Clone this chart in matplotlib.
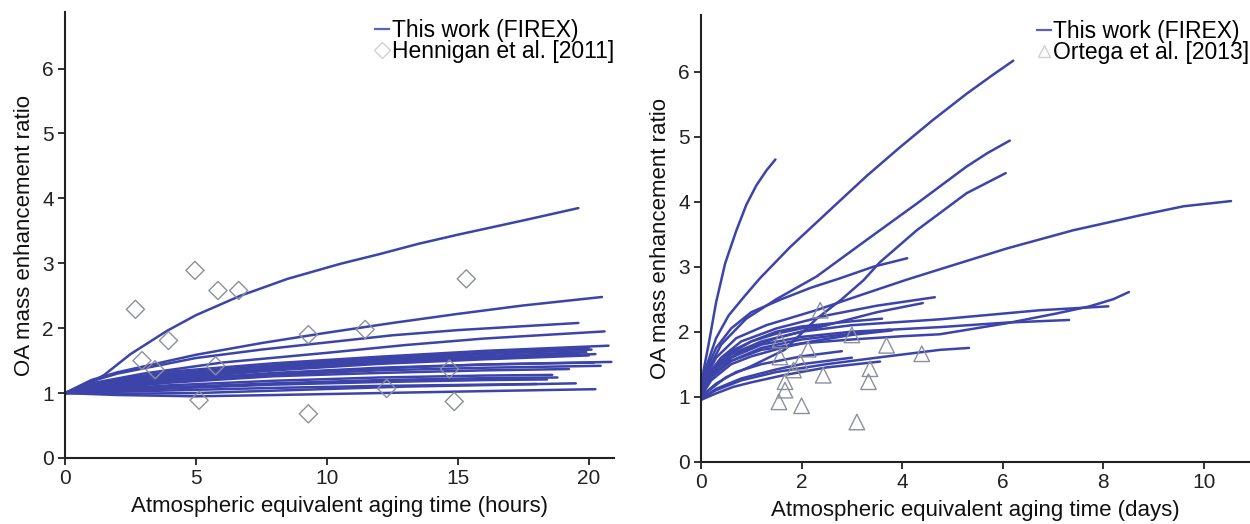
import matplotlib
matplotlib.use("Agg")
import matplotlib.pyplot as plt
from matplotlib.lines import Line2D

plt.rcParams['font.family'] = ['Liberation Sans', 'DejaVu Sans']

# ---------------- Left panel data: FIREX curves (hours) ----------------
h01_t = [0, 0.8, 1.5, 2.5, 3.9, 5, 6.7, 8.5, 10.5, 12, 13.5, 15, 17.5, 19.6]
h01_r = [1, 1.12, 1.28, 1.6, 1.96, 2.2, 2.5, 2.76, 2.99, 3.14, 3.3, 3.44, 3.66, 3.85]
h02_t = [0, 1, 2, 5, 7.5, 10, 12.5, 15, 17.5, 20.5]
h02_r = [1, 1.2, 1.32, 1.59, 1.77, 1.93, 2.08, 2.22, 2.35, 2.48]
h03_t = [0, 1, 2, 5, 7.5, 10, 12.5, 15, 17.5, 19.6]
h03_r = [1, 1.18, 1.3, 1.54, 1.67, 1.78, 1.89, 1.97, 2.03, 2.08]
h04_t = [0, 1, 3, 6, 10, 13, 16, 20.6]
h04_r = [1, 1.15, 1.3, 1.47, 1.62, 1.74, 1.84, 1.95]
h05_t = [0, 1, 4, 8, 12, 16, 20.75]
h05_r = [1, 1.14, 1.33, 1.46, 1.56, 1.65, 1.73]
h06_t = [0, 1, 4, 8, 12, 16, 20.0]
h06_r = [1, 1.13, 1.3, 1.43, 1.54, 1.62, 1.70]
h07_t = [0, 1, 4, 8, 12, 16, 20.1]
h07_r = [1, 1.11, 1.27, 1.41, 1.52, 1.6, 1.67]
h08_t = [0, 1, 4, 8, 12, 16, 19.9]
h08_r = [1, 1.1, 1.26, 1.39, 1.5, 1.57, 1.63]
h09_t = [0, 1, 4, 8, 12, 16, 20.25]
h09_r = [1, 1.09, 1.24, 1.37, 1.48, 1.55, 1.60]
h10_t = [0, 1, 4, 8, 12, 16, 20.0]
h10_r = [1, 1.08, 1.22, 1.35, 1.45, 1.52, 1.58]
h11_t = [0, 1, 4, 8, 12, 16, 20.86]
h11_r = [1, 1.07, 1.2, 1.31, 1.39, 1.44, 1.48]
h12_t = [0, 1, 4, 8, 12, 16, 20.45]
h12_r = [1, 1.06, 1.18, 1.28, 1.35, 1.39, 1.42]
h13_t = [0, 1, 4, 8, 12, 16, 19.24]
h13_r = [1, 1.05, 1.16, 1.26, 1.31, 1.35, 1.37]
h14_t = [0, 1, 4, 8, 12, 16, 18.8]
h14_r = [1, 1.03, 1.09, 1.15, 1.2, 1.23, 1.24]
h15_t = [0, 1, 4, 8, 12, 16, 18.4]
h15_r = [1, 1.02, 1.07, 1.13, 1.17, 1.2, 1.21]
h16_t = [0, 1, 4, 8, 12, 16, 18.0]
h16_r = [1, 1.01, 1.04, 1.08, 1.11, 1.13, 1.14]
h17_t = [0, 2, 5, 8, 12, 16, 20.25]
h17_r = [1, 0.97, 0.95, 0.97, 1.0, 1.03, 1.06]
h18_t = [0, 2, 5, 9, 13, 17, 19.5]
h18_r = [1, 0.99, 1.0, 1.05, 1.1, 1.13, 1.15]
h19_t = [0, 1, 4, 8, 12, 16, 19.8]
h19_r = [1, 1.12, 1.28, 1.42, 1.53, 1.61, 1.66]
h20_t = [0, 1, 4, 8, 12, 16, 20.2]
h20_r = [1, 1.06, 1.19, 1.3, 1.38, 1.44, 1.47]
h21_t = [0, 1, 4, 8, 12, 16, 19.6]
h21_r = [1, 1.1, 1.25, 1.38, 1.47, 1.55, 1.61]
h22_t = [0, 1, 4, 8, 12, 16, 18.6]
h22_r = [1, 1.04, 1.12, 1.19, 1.24, 1.27, 1.28]

# Hennigan et al. [2011]
henn_t = [2.69, 2.94, 3.44, 3.95, 4.96, 5.12, 5.84, 5.75, 6.63, 9.29, 9.29, 11.46, 12.28, 14.68, 14.86, 15.32]
henn_r = [2.29, 1.50, 1.36, 1.81, 2.89, 0.89, 2.58, 1.42, 2.58, 1.90, 0.68, 1.98, 1.07, 1.37, 0.87, 2.76]

# ---------------- Right panel data: FIREX curves (days) ----------------
dA_t = [0, 0.05, 0.15, 0.3, 0.48, 0.7, 0.9, 1.1, 1.3, 1.48]
dA_r = [1, 1.4, 1.8, 2.45, 3.05, 3.55, 3.95, 4.25, 4.48, 4.65]
dB_t = [0, 0.1, 0.3, 0.55, 0.87, 1.17, 1.77, 2.63, 3.3, 3.96, 4.6, 5.28, 5.8, 6.21]
dB_r = [1, 1.45, 1.9, 2.25, 2.55, 2.82, 3.3, 3.92, 4.4, 4.84, 5.25, 5.66, 5.95, 6.17]
dC_t = [0, 0.1, 0.4, 0.9, 1.5, 2.3, 3.29, 4.29, 5.28, 5.7, 6.14]
dC_r = [1, 1.35, 1.8, 2.2, 2.5, 2.85, 3.41, 3.97, 4.54, 4.75, 4.94]
dD_t = [0, 0.5, 1.0, 1.66, 2.3, 2.8, 3.23, 3.56, 4.29, 5.28, 6.06]
dD_r = [1, 1.3, 1.47, 1.72, 2.2, 2.5, 2.79, 3.07, 3.56, 4.13, 4.44]
dE_t = [0, 0.1, 0.3, 0.7, 1.3, 2.29, 3.24, 4.09, 4.75, 6.08, 7.4, 8.73, 9.6, 10.54]
dE_r = [1, 1.3, 1.6, 1.9, 2.1, 2.33, 2.58, 2.8, 2.96, 3.28, 3.56, 3.79, 3.93, 4.01]
dF_t = [0, 0.1, 0.3, 0.6, 1.0, 1.6, 2.2, 2.76, 3.43, 4.1]
dF_r = [1, 1.4, 1.75, 2.05, 2.3, 2.5, 2.68, 2.82, 3.0, 3.13]
dG_t = [0, 0.1, 0.4, 0.8, 1.5, 2.5, 3.5, 4.65]
dG_r = [1, 1.3, 1.6, 1.85, 2.05, 2.25, 2.4, 2.53]
dH_t = [0, 0.1, 0.4, 0.8, 1.5, 2.5, 3.5, 4.41]
dH_r = [1, 1.25, 1.5, 1.7, 1.9, 2.1, 2.3, 2.44]
dI_t = [0, 0.2, 0.6, 1.2, 2, 3, 4, 4.75, 6.08, 7.07, 7.73, 8.2, 8.51]
dI_r = [1, 1.3, 1.55, 1.72, 1.82, 1.88, 1.93, 1.96, 2.13, 2.28, 2.39, 2.5, 2.61]
dJ_t = [0, 0.2, 0.6, 1.2, 2, 3, 4.75, 6.74, 8.1]
dJ_r = [1, 1.35, 1.65, 1.85, 2.0, 2.1, 2.19, 2.33, 2.39]
dK_t = [0, 0.2, 0.6, 1.2, 2, 3, 4.75, 6.08, 7.32]
dK_r = [1, 1.3, 1.6, 1.8, 1.92, 2.0, 2.07, 2.14, 2.18]
dL_t = [0, 0.3, 0.8, 1.5, 2.5, 3.5, 4.75, 5.33]
dL_r = [0.97, 1.1, 1.25, 1.38, 1.5, 1.6, 1.72, 1.75]
dM_t = [0, 0.2, 0.6, 1.2, 2, 3, 3.76]
dM_r = [1, 1.3, 1.55, 1.75, 1.88, 1.97, 2.03]
dN_t = [0, 0.3, 0.64, 1.0, 1.64, 2.5, 3.56]
dN_r = [0.95, 1.05, 1.15, 1.22, 1.33, 1.45, 1.54]
dO_t = [0, 0.2, 0.6, 1.0, 1.5, 2.0, 2.5]
dO_r = [1, 1.4, 1.7, 1.85, 1.97, 2.05, 2.1]
dP_t = [0, 0.2, 0.6, 1.0, 1.6, 2.2, 3.0, 3.8]
dP_r = [1, 1.25, 1.5, 1.62, 1.75, 1.85, 1.95, 2.02]
dQ_t = [0, 0.3, 0.7, 1.2, 2.0, 2.8]
dQ_r = [1, 1.2, 1.38, 1.5, 1.62, 1.7]
dR_t = [0, 0.3, 0.8, 1.5, 2.0, 3.0]
dR_r = [0.97, 1.12, 1.28, 1.42, 1.5, 1.6]
dS_t = [0, 0.2, 0.5, 1.0, 1.5, 2.0, 3.0, 3.6]
dS_r = [1, 1.35, 1.62, 1.85, 2.0, 2.08, 2.16, 2.2]

# Ortega et al. [2013]
orte_t = [1.55, 1.57, 1.57, 1.97, 1.84, 1.67, 1.67, 2.0, 2.37, 2.43, 3.36, 3.33, 3.10, 3.69, 4.39, 3.0, 2.13]
orte_r = [0.92, 1.87, 1.61, 1.53, 1.41, 1.23, 1.10, 0.86, 2.33, 1.33, 1.43, 1.23, 0.61, 1.79, 1.66, 1.95, 1.73]

left_curves = [(h01_t, h01_r), (h02_t, h02_r), (h03_t, h03_r), (h04_t, h04_r), (h05_t, h05_r),
               (h06_t, h06_r), (h07_t, h07_r), (h08_t, h08_r), (h09_t, h09_r), (h10_t, h10_r),
               (h11_t, h11_r), (h12_t, h12_r), (h13_t, h13_r), (h14_t, h14_r), (h15_t, h15_r),
               (h16_t, h16_r), (h17_t, h17_r), (h18_t, h18_r), (h19_t, h19_r), (h20_t, h20_r),
               (h21_t, h21_r), (h22_t, h22_r)]
right_curves = [(dA_t, dA_r), (dB_t, dB_r), (dC_t, dC_r), (dD_t, dD_r), (dE_t, dE_r),
                (dF_t, dF_r), (dG_t, dG_r), (dH_t, dH_r), (dI_t, dI_r), (dJ_t, dJ_r),
                (dK_t, dK_r), (dL_t, dL_r), (dM_t, dM_r), (dN_t, dN_r), (dO_t, dO_r),
                (dP_t, dP_r), (dQ_t, dQ_r), (dR_t, dR_r), (dS_t, dS_r)]

LINE_COLOR = '#3c44aa'
MARK_COLOR = '#8c909c'
FS = 16
LFS = 16.5
TFS = 15

fig = plt.figure(figsize=(12.5, 5.24), dpi=100)
axL = fig.add_axes([0.052, 0.126, 0.439, 0.851])
axR = fig.add_axes([0.5608, 0.119, 0.4385, 0.852])


def style(ax, xlim, xticks, xlabel):
    ax.set_xlim(*xlim)
    ax.set_ylim(0, 6.87)
    ax.set_xticks(xticks)
    ax.set_yticks(range(0, 7))
    for s in ['top', 'right']:
        ax.spines[s].set_visible(False)
    for s in ['left', 'bottom']:
        ax.spines[s].set_linewidth(1.5)
        ax.spines[s].set_color('#222222')
    ax.tick_params(direction='out', length=5, width=1.3, labelsize=TFS, colors='#222222', pad=3)
    ax.set_xlabel(xlabel, fontsize=FS, color='#111111', labelpad=6)
    ax.set_ylabel('OA mass enhancement ratio', fontsize=FS, color='#111111', labelpad=5)


for t, r in left_curves:
    axL.plot(t, r, color=LINE_COLOR, lw=1.8, solid_capstyle='round', solid_joinstyle='round', zorder=2)
axL.scatter(henn_t, henn_r, marker='D', s=85, facecolors='none', edgecolors=MARK_COLOR,
            linewidths=1.0, zorder=3)
style(axL, (0, 20.95), [0, 5, 10, 15, 20], 'Atmospheric equivalent aging time (hours)')

for t, r in right_curves:
    axR.plot(t, r, color=LINE_COLOR, lw=1.8, solid_capstyle='round', solid_joinstyle='round', zorder=2)
axR.scatter(orte_t, orte_r, marker='^', s=125, facecolors='none', edgecolors=MARK_COLOR,
            linewidths=1.0, zorder=3)
style(axR, (0, 10.9), [0, 2, 4, 6, 8, 10], 'Atmospheric equivalent aging time (days)')

leg_kw = dict(frameon=False, fontsize=LFS, handlelength=0.6, handletextpad=0.1,
              labelspacing=-0.08, borderaxespad=0.0, borderpad=0.0, loc='upper right')
hL = [Line2D([], [], color='#5a62c8', lw=1.6),
      Line2D([], [], marker='D', ls='none', markersize=8, markerfacecolor='none',
             markeredgecolor='#cfd1d6', markeredgewidth=1.0)]
axL.legend(hL, ['This work (FIREX)', 'Hennigan et al. [2011]'],
           bbox_to_anchor=(1.0, 0.985), **leg_kw)
hR = [Line2D([], [], color='#5a62c8', lw=1.6),
      Line2D([], [], marker='^', ls='none', markersize=9, markerfacecolor='none',
             markeredgecolor='#cfd1d6', markeredgewidth=1.0)]
axR.legend(hR, ['This work (FIREX)', 'Ortega et al. [2013]'],
           bbox_to_anchor=(1.0, 0.99), **leg_kw)

fig.savefig('out.png', dpi=100)
